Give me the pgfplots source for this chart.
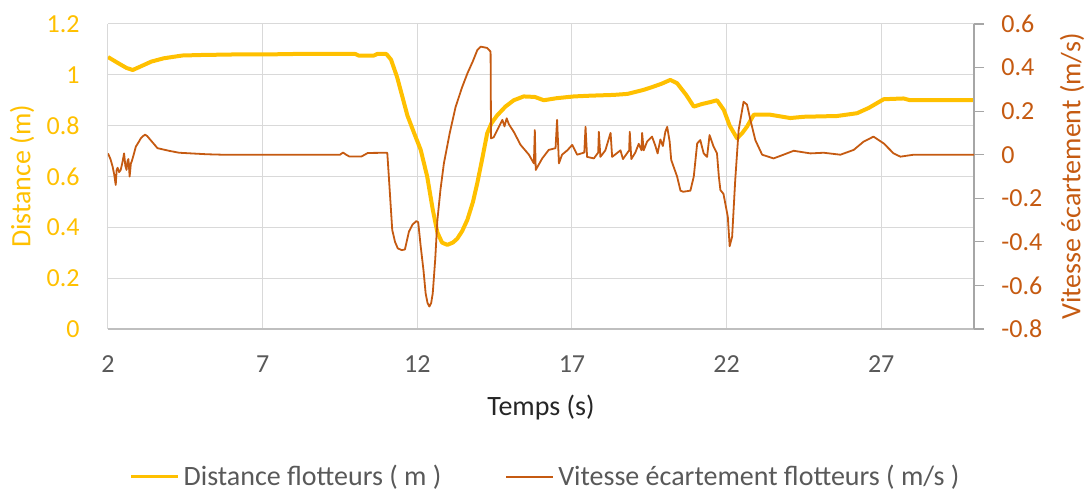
\documentclass[border=0pt]{standalone}
\usepackage{fontspec}
\setmainfont{Carlito}
\usepackage{pgfplots}
\pgfplotsset{compat=1.18}
\definecolor{cyel}{HTML}{FFC000}
\definecolor{corg}{HTML}{C55A11}
\definecolor{cgray}{HTML}{595959}
\definecolor{cgrid}{HTML}{D9D9D9}
\definecolor{caxis}{HTML}{BFBFBF}
\definecolor{cright}{HTML}{A6A6A6}
\definecolor{ctitle}{HTML}{262626}
\newcommand{\tickfont}{\fontsize{13}{15}\selectfont}
\newcommand{\labfont}{\fontsize{14}{16}\selectfont}
\begin{document}
\begin{tikzpicture}
\useasboundingbox (-54pt,-81.5pt) rectangle (492pt,164.5pt);
\begin{axis}[
  at={(0,0)}, anchor=south west,
  scale only axis, width=433pt, height=152.5pt,
  xmin=2, xmax=30, ymin=0, ymax=1.2,
  xtick={2,7,12,17,22,27},
  ytick={0,0.2,0.4,0.6,0.8,1,1.2},
  axis x line*=bottom, axis y line*=left,
  x axis line style={draw=caxis, line width=0.6pt, -},
  y axis line style={draw=none, -},
  major tick length=0pt,
  grid=major, major grid style={draw=cgrid, line width=0.5pt},
  /pgf/number format/assume math mode=true,
  xticklabel style={font=\tickfont, text=cgray, anchor=north, inner sep=0pt, yshift=-13.3pt},
  yticklabel style={font=\tickfont, text=cyel, anchor=east, inner sep=0pt, xshift=-14pt},
  xlabel={Temps (s)},
  every axis x label/.style={at={(axis description cs:0.5,-0.259)}, anchor=center, font=\labfont, text=ctitle},
  ylabel={Distance (m)},
  every axis y label/.style={at={(axis description cs:-0.0993,0.5)}, rotate=90, anchor=center, font=\labfont, text=cyel},
]
\addplot[cyel, line width=2pt, line join=round] coordinates {
(2.0,1.070) (2.3,1.048) (2.6,1.027) (2.8,1.019) (3.0,1.03) (3.4,1.052) (3.8,1.065)
(4.4,1.076) (5.0,1.078) (6.0,1.080) (7.0,1.080) (8.0,1.082) (9.0,1.082) (10.0,1.082)
(10.1,1.076) (10.6,1.076) (10.7,1.082) (11.0,1.082) (11.15,1.06) (11.35,0.99)
(11.68,0.84) (11.9,0.77) (12.11,0.705) (12.32,0.6) (12.5,0.47) (12.65,0.38)
(12.8,0.34) (12.97,0.331) (13.15,0.34) (13.29,0.355) (13.45,0.385) (13.62,0.43)
(13.8,0.5) (13.94,0.574) (14.1,0.67) (14.26,0.77) (14.4,0.81) (14.58,0.84)
(14.85,0.875) (15.12,0.90) (15.44,0.915) (15.8,0.913) (16.09,0.90) (16.5,0.908)
(17.06,0.915) (17.6,0.918) (18.35,0.921) (18.8,0.925) (19.32,0.941) (19.6,0.952)
(19.9,0.965) (20.18,0.98) (20.4,0.967) (20.7,0.92) (20.94,0.875) (21.2,0.885)
(21.48,0.893) (21.69,0.90) (21.91,0.862) (22.1,0.8) (22.34,0.75) (22.5,0.77)
(22.66,0.796) (22.88,0.843) (23.42,0.843) (24.06,0.83) (24.5,0.835) (25.57,0.838)
(26.22,0.849) (26.6,0.87) (27.08,0.904) (27.72,0.907) (27.94,0.90) (30,0.90)
};
\end{axis}
\begin{axis}[
  at={(0,0)}, anchor=south west,
  scale only axis, width=433pt, height=152.5pt,
  xmin=2, xmax=30, ymin=-0.8, ymax=0.6,
  axis x line=none, axis y line*=right,
  y axis line style={draw=cright, line width=0.6pt, -},
  ytick={-0.8,-0.6,-0.4,-0.2,0,0.2,0.4,0.6},
  tick align=outside, major tick length=5pt,
  tick style={draw=cright, line width=0.6pt},
  /pgf/number format/assume math mode=true,
  yticklabel style={font=\tickfont, text=corg, anchor=west, inner sep=0pt, xshift=8.5pt},
  ylabel={Vitesse écartement (m/s)},
  every axis y label/.style={at={(axis description cs:1.1132,0.5)}, rotate=90, anchor=center, font=\labfont, text=corg},
  legend style={at={(axis description cs:0.5064,-0.485)}, anchor=center, draw=none, fill=none,
    legend columns=2, font=\labfont, text=cgray,
    /tikz/every even column/.append style={column sep=30pt}},
  legend image code/.code={\draw[#1] (0pt,0pt) -- (23.5pt,0pt);},
]
\addlegendimage{cyel, line width=1.5pt}
\addplot[corg, line width=0.9pt, line join=round] coordinates {
(2.0,0.006) (2.08,-0.02) (2.15,-0.055) (2.2,-0.09) (2.25,-0.139) (2.28,-0.07)
(2.31,-0.06) (2.36,-0.08) (2.41,-0.07) (2.46,-0.04) (2.52,0.006) (2.56,-0.05)
(2.6,-0.07) (2.63,-0.03) (2.66,-0.02) (2.7,-0.10) (2.74,-0.04) (2.77,-0.03)
(2.83,0.0) (2.9,0.037) (3.0,0.06) (3.06,0.075) (3.13,0.085) (3.2,0.092)
(3.27,0.085) (3.33,0.075) (3.45,0.055) (3.6,0.03) (3.97,0.018) (4.3,0.009)
(5.2,0.002) (5.7,0.0) (9.5,0.0) (9.6,0.01) (9.7,0.0) (9.8,-0.008) (10.2,-0.008)
(10.4,0.008) (11.03,0.009) (11.08,-0.10) (11.19,-0.345) (11.28,-0.40) (11.37,-0.43)
(11.5,-0.438) (11.6,-0.435) (11.73,-0.353) (11.85,-0.32) (11.97,-0.305) (12.03,-0.31)
(12.11,-0.42) (12.2,-0.53) (12.27,-0.636) (12.33,-0.68) (12.39,-0.697) (12.45,-0.68)
(12.5,-0.636) (12.58,-0.48) (12.65,-0.30) (12.75,-0.16) (12.86,-0.04) (13.05,0.1)
(13.24,0.22) (13.45,0.31) (13.62,0.373) (13.8,0.43) (13.94,0.48) (14.05,0.496)
(14.26,0.49) (14.37,0.473) (14.385,0.075) (14.47,0.08) (14.64,0.128) (14.75,0.16)
(14.82,0.13) (14.89,0.167) (14.96,0.14) (15.12,0.105) (15.34,0.045) (15.61,0.0)
(15.77,-0.04) (15.8,0.113) (15.83,-0.07) (16.04,-0.017) (16.25,0.022) (16.47,0.03)
(16.52,0.16) (16.58,-0.04) (16.68,0.0) (16.85,0.02) (17.01,0.045) (17.17,0.0)
(17.4,0.01) (17.44,0.128) (17.49,-0.01) (17.71,-0.017) (17.85,0.01) (17.87,0.105)
(17.92,-0.01) (18.08,0.02) (18.25,0.1) (18.3,-0.01) (18.57,0.02) (18.65,-0.02)
(18.85,0.02) (18.87,0.105) (18.92,-0.02) (19.05,0.01) (19.16,0.05) (19.25,0.02)
(19.27,0.1) (19.32,0.02) (19.43,0.06) (19.59,0.083) (19.7,0.04) (19.77,0.006)
(19.86,0.07) (19.94,0.04) (20.02,0.105) (20.08,0.128) (20.16,0.06) (20.21,-0.024)
(20.4,-0.10) (20.51,-0.165) (20.6,-0.17) (20.83,-0.165) (20.94,-0.10) (21.05,0.052)
(21.15,0.067) (21.26,0.006) (21.37,-0.01) (21.45,0.09) (21.58,0.037) (21.69,0.006)
(21.75,-0.10) (21.8,-0.162) (21.9,-0.18) (22.04,-0.285) (22.1,-0.42) (22.18,-0.376)
(22.28,-0.116) (22.39,0.113) (22.55,0.243) (22.66,0.23) (22.77,0.16) (22.93,0.067)
(23.15,0.0) (23.52,-0.017) (23.84,0.0) (24.17,0.018) (24.71,0.006) (25.14,0.009)
(25.68,0.0) (26.11,0.022) (26.43,0.06) (26.75,0.083) (27.08,0.052) (27.4,0.006)
(27.62,-0.009) (28.05,0.0) (30,0.0)
};
\legend{Distance flotteurs ( m ), Vitesse écartement flotteurs ( m/s )}
\end{axis}
\end{tikzpicture}
\end{document}
